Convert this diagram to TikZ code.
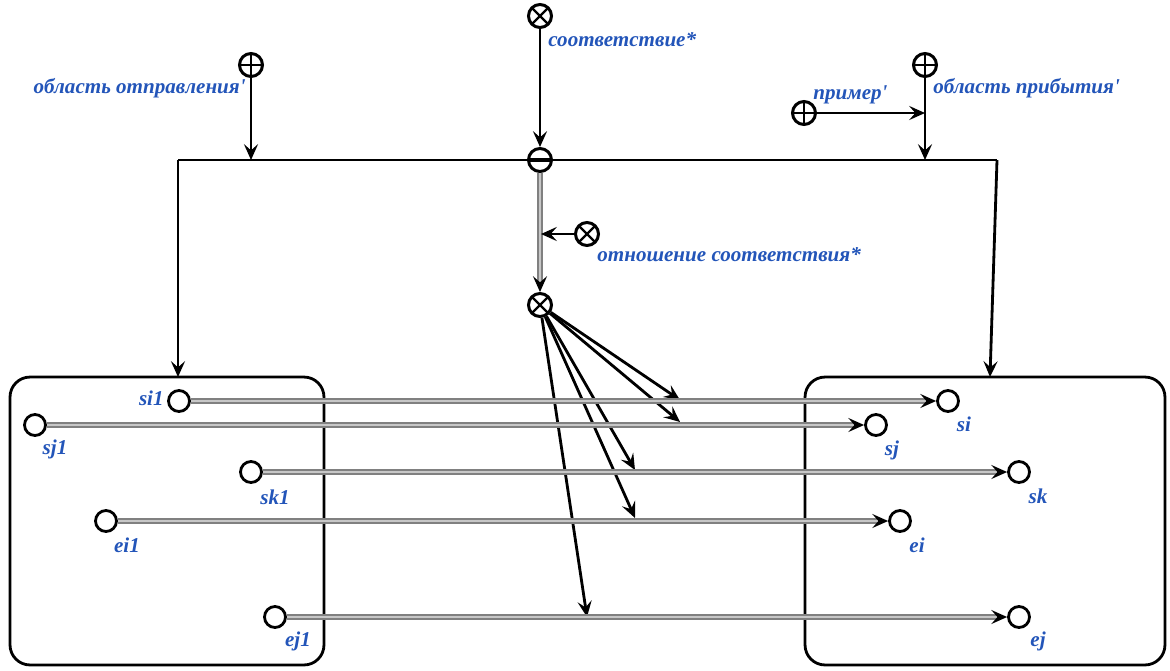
\documentclass[tikz,border=0pt]{standalone}
\usepackage{fontspec}
\setmainfont{Liberation Serif}
\usepackage{xcolor}
\usepackage{tikz}
\usetikzlibrary{arrows.meta, positioning}

\definecolor{lblblue}{RGB}{35,85,185}

\tikzset{
	sym/.style={circle, draw, fill=white, line width=1.7pt, minimum size=0.46cm, inner sep=0pt},
	symplus/.style={sym, path picture={\draw[line width=1.3pt] (path picture bounding box.north) -- (path picture bounding box.south) (path picture bounding box.west) -- (path picture bounding box.east);}},
	symminus/.style={sym},
	symcross/.style={sym, path picture={\draw[line width=1.3pt] (path picture bounding box.north west) -- (path picture bounding box.south east) (path picture bounding box.north east) -- (path picture bounding box.south west);}},
	elem/.style={circle, draw, fill=white, line width=1.6pt, minimum size=0.42cm, inner sep=0pt},
	lbl/.style={text=lblblue, font=\fontsize{12}{14}\selectfont\bfseries\itshape, inner sep=0pt},
	arr/.style={line width=1.6pt, -{Stealth[length=9pt, width=8pt, inset=3.5pt]}},
	dbl/.style={draw=black!50, double=black!22, double distance=1.4pt, line width=0.8pt, -{Stealth[black, length=9pt, width=8pt, inset=3.5pt]}},
	area/.style={draw, line width=1.6pt, rounded corners=0.4cm, inner sep=0pt}
}

\begin{document}
\begin{tikzpicture}[x=0.02cm, y=-0.02cm]
	\useasboundingbox (0,0) rectangle (1170,670);
	% Areas:
	\node[area, minimum width=6.28cm, minimum height=5.76cm](boxL) at (167,521){};
	\node[area, minimum width=7.2cm, minimum height=5.76cm](boxR) at (985,521){};
	% Top symbols and labels:
	\node[symcross](corr) at (540,16){};
	\node[lbl, anchor=west] at (548,40){соответствие*};
	\node[symplus](src) at (251,65){};
	\node[lbl, anchor=east] at (246,88){область отправления\textquotesingle};
	\node[symplus](dst) at (925,65){};
	\node[lbl, anchor=west] at (933,88){область прибытия\textquotesingle};
	\node[symplus](ex) at (804,113){};
	\node[lbl, anchor=west] at (813,95){пример\textquotesingle};
	\node[symminus](sel) at (540,160){};
	\node[symcross](rel) at (587,234){};
	\node[lbl, anchor=west] at (597,255){отношение соответствия*};
	\node[symcross](corr2) at (540,305){};
	% Coordinates on the wires:
	\coordinate (cL) at (178,160);
	\coordinate (cR) at (997,160);
	\coordinate (jsrc) at (251,160);
	\coordinate (jdst) at (925,160);
	\coordinate (jex) at (925,113);
	\coordinate (jrel) at (541,234);
	\coordinate (tL) at (178,377);
	\coordinate (tR) at (990,377);
	% Paths:
	\draw[arr] (corr) -- (sel);
	\draw[line width=1.6pt] (cL) -- (sel.west);
	\draw[line width=1.6pt] (sel.east) -- (cR);
	\draw[arr] (cL) -- (tL);
	\draw[arr] (cR) -- (tR);
	\draw[arr] (src) -- (jsrc);
	\draw[arr] (dst) -- (jdst);
	\draw[arr] (ex) -- (jex);
	\draw[dbl] (sel) -- (corr2);
	\draw[arr] (rel) -- (jrel);
	% Elements in the areas:
	\node[elem](si1) at (179,401){};
	\node[lbl, anchor=east] at (164,398){si1};
	\node[elem](sj1) at (35,425){};
	\node[lbl] at (55,449){sj1};
	\node[elem](sk1) at (251,472){};
	\node[lbl] at (275,497){sk1};
	\node[elem](ei1) at (106,521){};
	\node[lbl] at (127,545){ei1};
	\node[elem](ej1) at (275,617){};
	\node[lbl] at (298,641){ej1};
	\node[elem](si) at (948,401){};
	\node[lbl] at (964,424){si};
	\node[elem](sj) at (876,425){};
	\node[lbl] at (892,450){sj};
	\node[elem](sk) at (1019,472){};
	\node[lbl] at (1038,496){sk};
	\node[elem](ei) at (900,521){};
	\node[lbl] at (917,545){ei};
	\node[elem](ej) at (1019,617){};
	\node[lbl] at (1038,641){ej};
	% Fan from the correspondence:
	\coordinate (f1) at (680,400);
	\coordinate (f2) at (680,422);
	\coordinate (f3) at (635,470);
	\coordinate (f4) at (635,518);
	\coordinate (f5) at (587,617);
	\foreach \f in {f1,f2,f3,f4,f5}
		\draw[arr] (corr2) -- (\f);
	% Pairs:
	\draw[dbl] (si1) -- (si);
	\draw[dbl] (sj1) -- (sj);
	\draw[dbl] (sk1) -- (sk);
	\draw[dbl] (ei1) -- (ei);
	\draw[dbl] (ej1) -- (ej);
	% Minus bar of the selector:
	\draw[line width=1.8pt] ([xshift=-0.21cm]sel.center) -- ([xshift=0.21cm]sel.center);
\end{tikzpicture}
\end{document}
